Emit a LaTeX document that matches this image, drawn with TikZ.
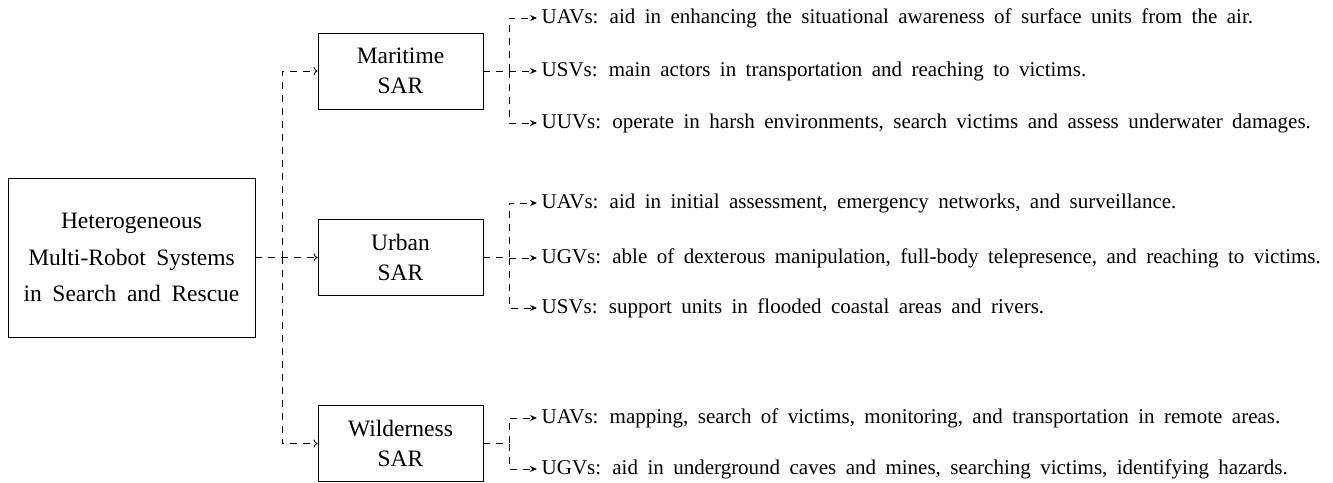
\documentclass[tikz,border=0pt]{standalone}
\usepackage{fontspec}
\setmainfont{Liberation Serif}[WordSpace=1.8]
\usetikzlibrary{arrows.meta}
\tikzset{
  box/.style={draw, line width=0.9pt, minimum width=165pt, minimum height=76pt, align=center, inner sep=0pt, font=\fontsize{23.5}{30}\selectfont},
  leaf/.style={anchor=west, inner sep=4.5pt, font=\fontsize{21}{24}\selectfont},
  edge/.style={line width=0.9pt, dash pattern=on 7pt off 6pt, -{To[length=4pt,width=8pt]}},
  leafedge/.style={line width=0.9pt, dash pattern=on 7pt off 6pt, -{Stealth[length=7pt,width=6pt]}}
}
\begin{document}
\begin{tikzpicture}[x=1pt,y=-1pt]
\useasboundingbox (0,0) rectangle (1333,482);
\node[draw, line width=0.9pt, minimum width=247pt, minimum height=159pt, align=center, inner sep=0pt, font=\fontsize{23.5}{36.5}\selectfont] (main) at (131.5,257.5) {Heterogeneous\\Multi-Robot Systems\\in Search and Rescue};
\node[box] (mar) at (400.5,71) {Maritime\\SAR};
\node[box] (urb) at (400.5,257.5) {Urban\\SAR};
\node[box] (wil) at (400.5,443.5) {Wilderness\\SAR};
\coordinate (t) at (282,257.5);
\coordinate (bm) at (509,71);
\coordinate (bu) at (509,257.5);
\coordinate (bw) at (509,443.5);
\node[leaf] (m1) at (537,18) {UAVs: aid in enhancing the situational awareness of surface units from the air.};
\node[leaf] (m2) at (537,71) {USVs: main actors in transportation and reaching to victims.};
\node[leaf] (m3) at (537,123) {UUVs: operate in harsh environments, search victims and assess underwater damages.};
\node[leaf] (u1) at (537,203) {UAVs: aid in initial assessment, emergency networks, and surveillance.};
\node[leaf] (u2) at (537,258) {UGVs: able of dexterous manipulation, full-body telepresence, and reaching to victims.};
\node[leaf] (u3) at (537,308) {USVs: support units in flooded coastal areas and rivers.};
\node[leaf] (w1) at (537,418) {UAVs: mapping, search of victims, monitoring, and transportation in remote areas.};
\node[leaf] (w2) at (537,469) {UGVs: aid in underground caves and mines, searching victims, identifying hazards.};
\draw[edge] (main.east) -- (t) |- (mar.west);
\draw[edge] (main.east) -- (urb.west);
\draw[edge] (main.east) -- (t) |- (wil.west);
\foreach \p/\b/\c in {mar/bm/m1, mar/bm/m2, mar/bm/m3, urb/bu/u1, urb/bu/u2, urb/bu/u3, wil/bw/w1, wil/bw/w2}
  \draw[leafedge] (\p.east) -- (\b) |- (\c.west);
\end{tikzpicture}
\end{document}
